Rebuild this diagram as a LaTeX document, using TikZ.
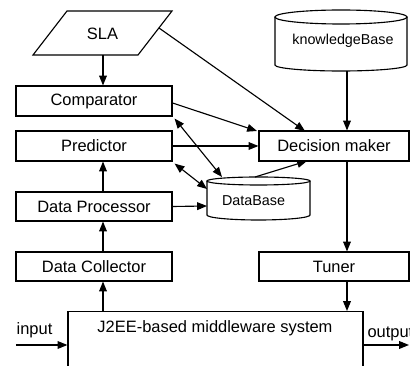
\documentclass[tikz,border=0pt]{standalone}
\usepackage{fontspec}
\setmainfont{Liberation Sans}
\usetikzlibrary{arrows.meta}
\tikzset{
  blk/.style={draw,line width=0.8pt,inner sep=0pt,minimum width=3.9cm,minimum height=0.75cm},
  arr/.style={line width=0.8pt,-{Triangle[length=7pt,width=5.5pt]}},
  both/.style={line width=0.8pt,{Triangle[length=7pt,width=5.5pt]}-{Triangle[length=7pt,width=5.5pt]}},
  smalltxt/.style={font=\fontsize{10.2}{12}\selectfont}
}

\begin{document}
\begin{tikzpicture}[x=0.025cm,y=-0.025cm,font=\fontsize{11.7}{14}\selectfont,line width=0.8pt]
\path[use as bounding box] (0,0) rectangle (410,366);
% SLA
\draw (33,55) -- (67,11) -- (172,11) -- (138,55) -- cycle;
\node (sla) at (102.5,34) {SLA};
\coordinate (sla-s) at (103,55);
\coordinate (sla-e) at (159,28);
% left column
\node[blk] (cmp) at (94,101) {Comparator};
\node[blk] (prd) at (94,146) {Predictor};
\node[blk,minimum height=0.725cm] (dp) at (94,206.5) {Data Processor};
\node[blk,minimum height=0.725cm] (dc) at (94,266.5) {Data Collector};
% right column
\node[blk,minimum width=3.75cm] (dm) at (334,146) {Decision maker};
\node[blk,minimum width=3.75cm,minimum height=0.725cm] (tun) at (334,266.5) {Tuner};
% knowledgeBase
\draw (275,17) -- (275,65) arc[start angle=180,end angle=360,x radius=1.65cm,y radius=0.15cm] -- (407,17);
\draw (341,17) ellipse[x radius=1.65cm,y radius=0.175cm];
\node[smalltxt] (kb) at (343,41) {knowledgeBase};
\coordinate (kb-s) at (347,71);
% DataBase
\draw (207,181) -- (207,215) arc[start angle=180,end angle=360,x radius=1.2875cm,y radius=0.125cm] -- (310,181);
\draw (258.5,181) ellipse[x radius=1.2875cm,y radius=0.1cm];
\node[smalltxt] (db) at (253.5,201) {DataBase};
\coordinate (db-n) at (222,177);
\coordinate (db-nw) at (207,189);
\coordinate (db-ne) at (255,177);
\coordinate (db-w) at (207,206);
% middleware
\node[draw,inner sep=0pt,minimum width=7.375cm,minimum height=2.5cm,anchor=north] (mw) at (215.5,311) {};
\node (mwl) at (215,328) {J2EE-based middleware system};
\node (in) at (34.5,330) {input};
\node[anchor=west,inner sep=0pt] (out) at (367,334) {output};
\coordinate (in-w) at (16,345);
\coordinate (out-e) at (409,345);
\coordinate (lx) at (103,0);
% connectors
\draw[arr] (sla-s) -- (cmp.north -| lx);
\draw[arr] (sla-e) -- (305,131);
\draw[arr] (cmp.east) ++(0,2) -- (257,131);
\draw[arr] (prd.east) -- (dm.west);
\draw[both] (cmp.south east) ++(2,2) -- (db-n);
\draw[both] (prd.south east) ++(2,2) -- (db-nw);
\draw[arr] (db-ne) -- (307,161);
\draw[arr] (dp.east) -- (db-w);
\draw[arr] (dp.north -| lx) -- (prd.south -| lx);
\draw[arr] (dc.north -| lx) -- (dp.south -| lx);
\draw[arr] (mw.north -| lx) -- (dc.south -| lx);
\draw[arr] (kb-s) -- (dm.north -| kb-s);
\draw[arr] (dm.south -| kb-s) -- (tun.north -| kb-s);
\draw[arr] (tun.south -| kb-s) -- (mw.north -| kb-s);
\draw[arr] (in-w) -- (in-w -| mw.west);
\draw[arr] (out-e -| mw.east) -- (out-e);
\end{tikzpicture}
\end{document}
